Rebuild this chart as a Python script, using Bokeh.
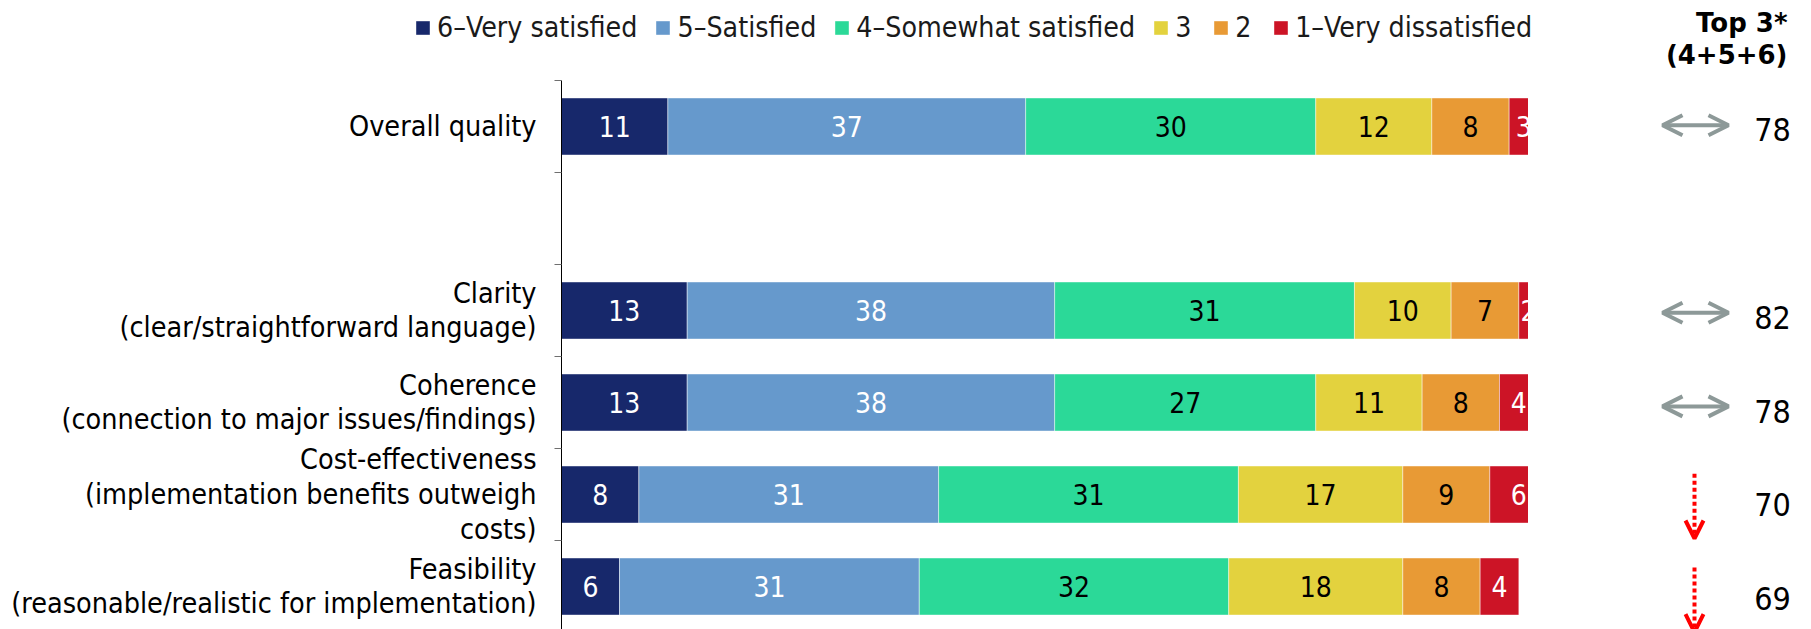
from bokeh.plotting import figure
from bokeh.models import (ColumnDataSource, Range1d, FixedTicker, Legend, LegendItem,
                          Arrow, OpenHead)
from bokeh.layouts import row, column
from bokeh.embed import file_html
from bokeh.resources import INLINE
from bokeh.core.properties import value

# ---------------- data ----------------
categories = [
    "Overall quality",
    "Clarity\n(clear/straightforward language)",
    "Coherence\n(connection to major issues/findings)",
    "Cost-effectiveness\n(implementation benefits outweigh\ncosts)",
    "Feasibility\n(reasonable/realistic for implementation)",
]
series_names = ["6\u2013Very satisfied", "5\u2013Satisfied", "4\u2013Somewhat satisfied",
                "3", "2", "1\u2013Very dissatisfied"]
very_satisfied = [11, 13, 13, 8, 6]
satisfied = [37, 38, 38, 31, 31]
somewhat_satisfied = [30, 31, 27, 31, 32]
rating_3 = [12, 10, 11, 17, 18]
rating_2 = [8, 7, 8, 9, 8]
very_dissatisfied = [3, 2, 4, 6, 4]
top3 = [78, 82, 78, 70, 69]
trend = ["same", "same", "same", "down", "down"]
top3_header = "Top 3*\n(4+5+6)"

colors = ["#17286B", "#6699CC", "#2BD998", "#E3D23E", "#E89A35", "#CC1426"]
label_colors = ["white", "white", "black", "black", "black", "white"]
FONT = "DejaVu Sans Condensed"

# category slots (an empty slot follows the first category)
slots = [0] + [i + 1 for i in range(1, len(categories))]
n_slots = slots[-1] + 1

series = [very_satisfied, satisfied, somewhat_satisfied, rating_3, rating_2, very_dissatisfied]
keys = ["s6", "s5", "s4", "s3", "s2", "s1"]

# ---------------- top strip: legend + header ----------------
top = figure(width=1811, height=80, output_backend="svg", toolbar_location=None,
             x_range=Range1d(0, 1811), y_range=Range1d(80, 0),
             x_axis_location=None, y_axis_location=None, min_border=0)
top.outline_line_color = None
top.grid.visible = False
# zero-size swatch renderers (only used to draw the legend keys)
dummy = ColumnDataSource(dict(y=[0], l=[0], r=[0]))
swatches = [top.hbar(y="y", left="l", right="r", height=0, source=dummy,
                     fill_color=c, line_color=None) for c in colors]
items = [LegendItem(label=nm, renderers=[r]) for nm, r in zip(series_names, swatches)]
legend = Legend(items=items, orientation="horizontal", location=(414, 36),
                glyph_width=17, glyph_height=17, label_standoff=6, spacing=17,
                padding=0, margin=0, border_line_color=None, background_fill_alpha=0,
                label_text_font=FONT, label_text_font_size="28.3px",
                label_text_color="#1a1a1a", label_height=17)
top.add_layout(legend)
top.text(x=[1787], y=[38.5], text=[top3_header], text_align="right",
         text_baseline="middle", text_font=value("DejaVu Sans"), text_font_style="bold",
         text_font_size="26px", text_line_height=1.05, text_color="black")

# ---------------- main chart ----------------
p = figure(width=1528, height=549, output_backend="svg", toolbar_location=None,
           x_range=Range1d(0, 100), y_range=Range1d(n_slots - 0.533, -0.5),
           x_axis_location=None, min_border=0,
           min_border_left=561, min_border_right=0, min_border_top=0, min_border_bottom=0)
p.outline_line_color = None
p.xgrid.visible = False
p.ygrid.visible = False

src = ColumnDataSource(dict(y=slots, **{k: s for k, s in zip(keys, series)}))
rs = p.hbar_stack(keys, y="y", height=0.62, fill_color=colors, line_color="white",
                  line_alpha=0.45, line_width=1, source=src)

tx, ty, tt, tc = [], [], [], []
for i in range(len(categories)):
    left = 0
    for k, vals in enumerate(series):
        v = vals[i]
        tx.append(left + v / 2)
        ty.append(slots[i])
        tt.append(str(v))
        tc.append(label_colors[k])
        left += v
lab_src = ColumnDataSource(dict(x=tx, y=ty, text=tt, color=tc))
p.text(x="x", y="y", text="text", text_color="color", source=lab_src,
       text_align="center", text_baseline="middle",
       text_font=value(FONT), text_font_size="28px")

ax = p.yaxis[0]
ax.ticker = FixedTicker(ticks=slots, minor_ticks=[k - 0.5 for k in range(n_slots + 1)])
ax.major_label_overrides = {s: c for s, c in zip(slots, categories)}
ax.major_tick_out = 0
ax.major_tick_in = 0
ax.minor_tick_out = 7
ax.minor_tick_in = 0
ax.minor_tick_line_color = "#6f6f6f"
ax.axis_line_color = "black"
ax.major_label_text_font = FONT
ax.major_label_text_font_size = "28.5px"
ax.major_label_text_color = "black"
ax.major_label_text_line_height = 1.05
ax.major_label_standoff = 18

# ---------------- right column (Top 3) ----------------
p2 = figure(width=283, height=549, output_backend="svg", toolbar_location=None,
            x_range=Range1d(0, 283), y_range=Range1d(5.331, -0.528),
            x_axis_location=None, y_axis_location=None, min_border=0)
p2.outline_line_color = None
p2.grid.visible = False

num_src = ColumnDataSource(dict(x=[244] * len(top3), y=slots, text=[str(v) for v in top3]))
p2.text(x="x", y="y", text="text", source=num_src, text_align="center",
        text_baseline="middle", text_font=value(FONT), text_font_size="32px",
        text_color="black")

same_y = [s - 0.05 for s, t in zip(slots, trend) if t == "same"]
down_y = [s for s, t in zip(slots, trend) if t == "down"]
same_src = ColumnDataSource(dict(xs=[134] * len(same_y), xe=[200] * len(same_y),
                                 ys=same_y, ye=same_y))
down_src = ColumnDataSource(dict(x=[166] * len(down_y), ys=[y - 0.33 for y in down_y],
                                 ye=[y + 0.36 for y in down_y]))
gray = "#8D9998"
p2.add_layout(Arrow(x_start="xs", y_start="ys", x_end="xe", y_end="ye", source=same_src,
                    line_color=gray, line_width=4,
                    start=OpenHead(size=20, line_color=gray, line_width=4),
                    end=OpenHead(size=20, line_color=gray, line_width=4)))
p2.add_layout(Arrow(x_start="x", y_start="ys", x_end="x", y_end="ye", source=down_src,
                    line_color="#FF0000", line_width=4, line_dash="4 3",
                    start=None,
                    end=OpenHead(size=18, line_color="#FF0000", line_width=4)))

layout = column(top, row(p, p2, spacing=0), spacing=0)
open("out.html", "w").write(file_html(layout, INLINE))
